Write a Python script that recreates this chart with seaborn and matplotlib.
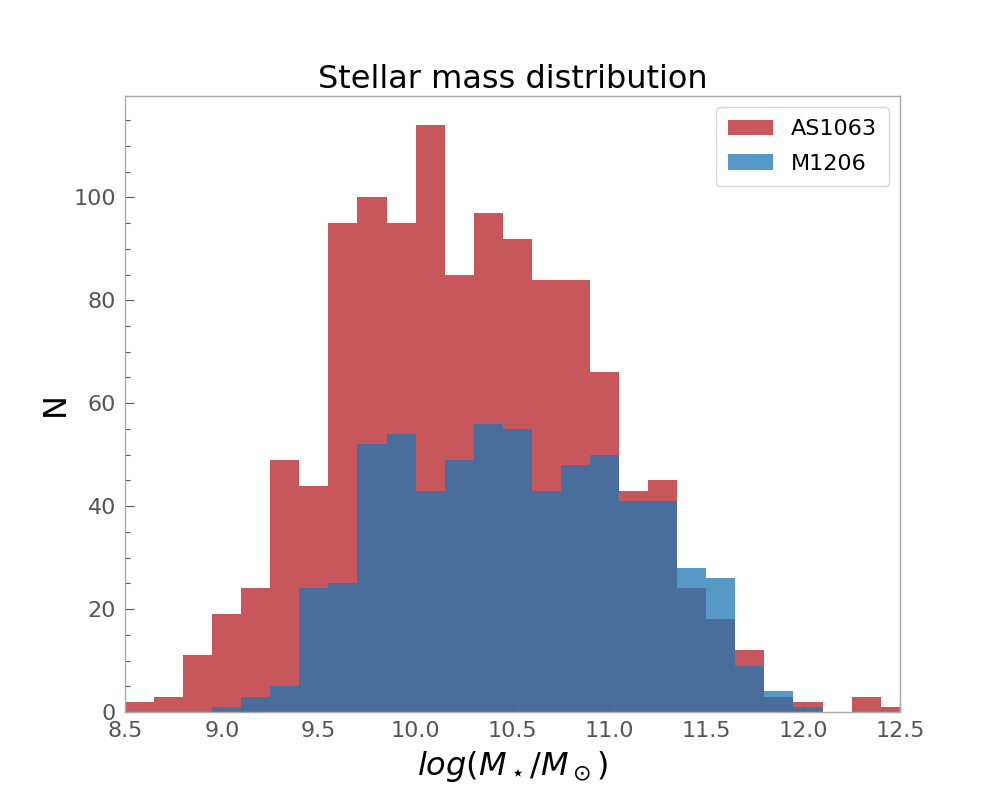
import numpy as np
import pandas as pd
import matplotlib
matplotlib.use("Agg")
import matplotlib.pyplot as plt
from matplotlib.ticker import AutoMinorLocator
import seaborn as sns

# ---- data (counts per bin of width 0.15 starting at 8.5) ----
bin_start = 8.5
bin_width = 0.15
as1063_counts = [2, 3, 11, 19, 24, 49, 44, 95, 100, 95, 114, 85, 97, 92, 84, 84,
                 66, 43, 45, 24, 18, 12, 3, 2, 0, 3, 1]
m1206_counts = [0, 0, 0, 1, 3, 5, 24, 25, 52, 54, 43, 49, 56, 55, 43, 48,
                50, 41, 41, 28, 26, 9, 4, 1, 0, 0, 0]
series_names = ["AS1063", "M1206"]
x_ticks = [8.5, 9.0, 9.5, 10.0, 10.5, 11.0, 11.5, 12.0, 12.5]
y_ticks = [0, 20, 40, 60, 80, 100]

n_bins = len(as1063_counts)
edges = [bin_start + bin_width * i for i in range(n_bins + 1)]
centers = [e + bin_width / 2 for e in edges[:-1]]

d1 = pd.DataFrame({"x": centers, "w": as1063_counts})
d2 = pd.DataFrame({"x": centers, "w": m1206_counts})

sns.set_theme(style="white")
plt.rcParams["font.family"] = ["DejaVu Sans"]
plt.rcParams["mathtext.fontset"] = "dejavusans"
plt.rcParams["text.color"] = "black"
plt.rcParams["axes.labelcolor"] = "black"

fig, ax = plt.subplots(figsize=(10, 8), dpi=100)

red = "#C44E52"
blue = "#1f77b4"
sns.histplot(data=d1, x="x", weights="w", bins=edges, color=red, alpha=0.95,
             linewidth=0, ax=ax, label=series_names[0])
sns.histplot(data=d2, x="x", weights="w", bins=edges, color=blue, alpha=0.75,
             linewidth=0, ax=ax, label=series_names[1])

ax.set_xlim(8.5, 12.5)
ax.set_ylim(0, 119.7)
ax.set_xticks(x_ticks)
ax.set_yticks(y_ticks)
ax.yaxis.set_minor_locator(AutoMinorLocator(4))

for sp in ax.spines.values():
    sp.set_color("#aaaaaa")
    sp.set_linewidth(1.0)

ax.tick_params(axis="both", which="major", direction="in", length=6.5,
               width=0.8, color="#555555", labelsize=16, labelcolor="#555555",
               pad=6.5, left=True, bottom=True, right=False, top=False)
ax.tick_params(axis="y", which="minor", direction="in", length=3.8,
               width=0.8, color="#555555", left=True, right=False)

ax.set_title("Stellar mass distribution", fontsize=23, color="black", pad=6)
ax.set_xlabel(r"$log(M_\star/M_\odot)$", fontsize=23, labelpad=6)
ax.set_ylabel("N", fontsize=23, labelpad=2)

leg = ax.legend(loc="upper right", fontsize=16, frameon=True, fancybox=True,
                borderpad=0.55, handlelength=2.0, labelspacing=0.65)
leg.get_frame().set_edgecolor("#cccccc")
for t in leg.get_texts():
    t.set_color("black")

fig.subplots_adjust(left=0.125, right=0.9, bottom=0.11, top=0.88)
fig.savefig("out.png", dpi=100)
